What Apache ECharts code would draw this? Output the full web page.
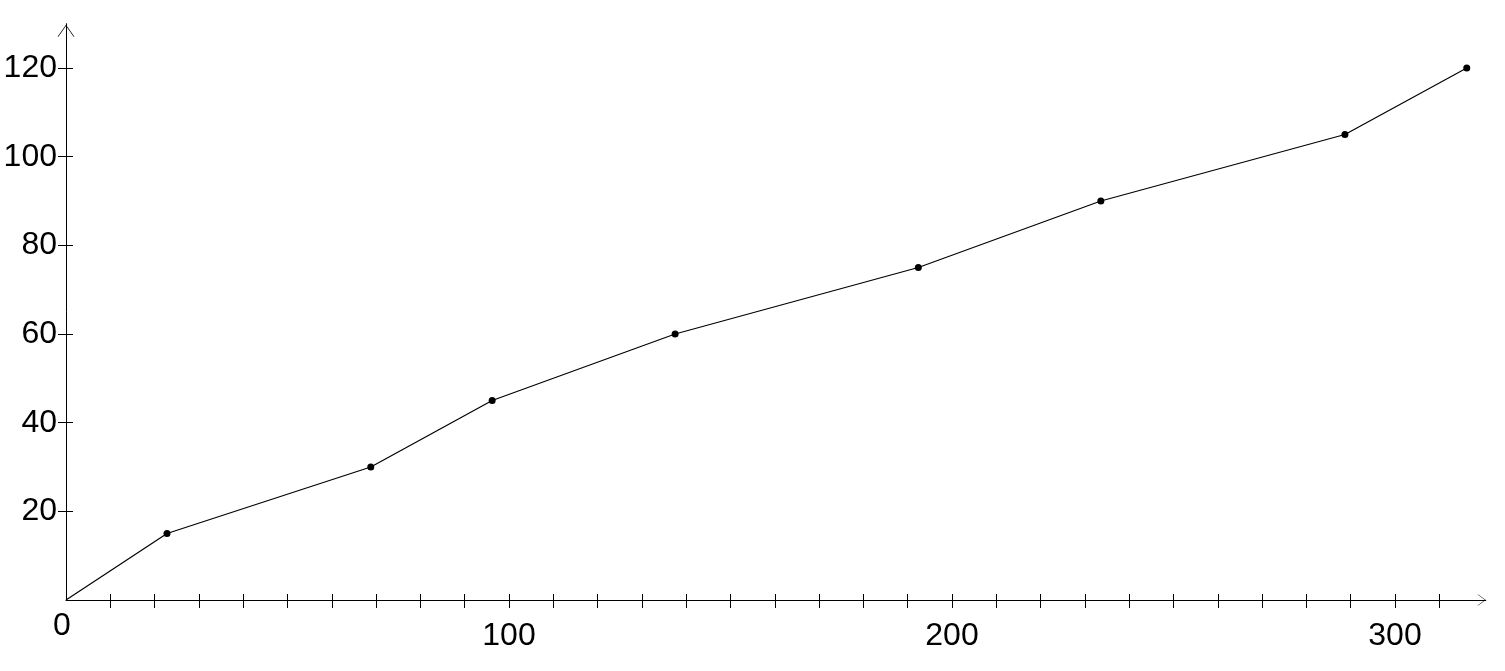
<!DOCTYPE html>
<html><head><meta charset="utf-8">
<script src="https://cdn.jsdelivr.net/npm/echarts@6/dist/echarts.min.js"></script>
<style>html,body{margin:0;padding:0;background:#fff}#c{width:1505px;height:671px}</style>
</head><body><div id="c"></div>
<script>
const xValues = [0, 22.8, 68.8, 96.2, 137.5, 192.4, 233.6, 288.7, 316.2];
const yValues = [0, 15, 30, 45, 60, 75, 90, 105, 120];
const xTickValues = [10,20,30,40,50,60,70,80,90,100,110,120,130,140,150,160,170,180,190,200,210,220,230,240,250,260,270,280,290,300,310];
const xLabelValues = [0, 100, 200, 300];
const yTickValues = [20, 40, 60, 80, 100, 120];
const yLabelValues = [20, 40, 60, 80, 100, 120];

const FONT = "'Liberation Sans', Arial, sans-serif";
const FS = 32;
const arrowY = 'path://M0,0 L10,14 L9,14 L0,1.4 L-9,14 L-10,14 Z';
const arrowX = 'path://M0,0 L10,14 L9,14 L0,1.4 L-9,14 L-10,14 Z';
const chart = echarts.init(document.getElementById('c'));
const common = {min: 0, splitLine: {show: false}};
chart.setOption({
  animation: false,
  backgroundColor: '#fff',
  grid: {left: 66, right: 19.2, top: 23.7, bottom: 71, containLabel: false, outerBoundsMode: 'none'},
  xAxis: [
    Object.assign({}, common, {
      type: 'value', max: 320.5, position: 'bottom',
      axisLine: {show: true, lineStyle: {color: '#000', width: 1}, symbol: ['none', arrowX], symbolSize: [15, 8], symbolOffset: [0, -4]},
      axisTick: {show: true, inside: false, length: 8, lineStyle: {color: '#000'}, customValues: xTickValues},
      axisLabel: {show: true, customValues: xLabelValues, color: '#000', fontFamily: FONT, fontSize: FS, margin: 10,
        formatter: v => v === 0 ? '{z|0}' : '{n|' + v + '}',
        rich: {z: {fontFamily: FONT, fontSize: FS, color: '#000', padding: [0, 8, 0, 0]}, n: {fontFamily: FONT, fontSize: FS, color: '#000', padding: [10, 0, 0, 0]}}}
    }),
    Object.assign({}, common, {
      type: 'value', max: 320.5, position: 'bottom',
      axisLine: {show: false},
      axisTick: {show: true, inside: true, length: 6, lineStyle: {color: '#000'}, customValues: xTickValues},
      axisLabel: {show: false}
    })
  ],
  yAxis: [
    Object.assign({}, common, {
      type: 'value', max: 130, position: 'left',
      axisLine: {show: true, lineStyle: {color: '#000', width: 1}, symbol: ['none', arrowY], symbolSize: [17, 14], symbolOffset: [0, -7]},
      axisTick: {show: true, inside: false, length: 8, lineStyle: {color: '#000'}, customValues: yTickValues},
      axisLabel: {show: true, customValues: yLabelValues, color: '#000', fontFamily: FONT, fontSize: FS, margin: 9, padding: [7, 0, 0, 0]}
    }),
    Object.assign({}, common, {
      type: 'value', max: 130, position: 'left',
      axisLine: {show: false},
      axisTick: {show: true, inside: true, length: 7, lineStyle: {color: '#000'}, customValues: yTickValues},
      axisLabel: {show: false}
    })
  ],
  series: [{
    type: 'line',
    data: xValues.map((x, i) => [x, yValues[i]]),
    symbol: 'circle', symbolSize: (v, p) => p.dataIndex === 0 ? 0 : 7,
    showSymbol: true,
    itemStyle: {color: '#000'},
    lineStyle: {color: '#000', width: 1.2},
    clip: false
  }]
});
</script></body></html>
